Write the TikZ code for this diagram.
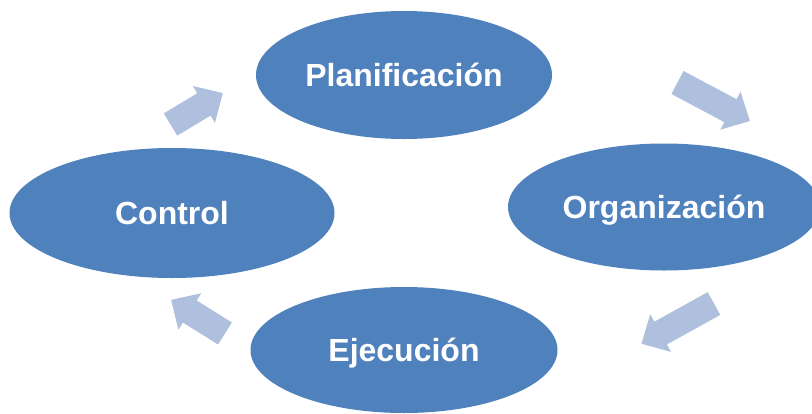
\documentclass[tikz,border=0pt]{standalone}
\usepackage{fontspec}
\setmainfont{Liberation Sans}
\usetikzlibrary{shapes.geometric}
\definecolor{phaseblue}{HTML}{4F81BD}
\definecolor{arrowblue}{HTML}{AEC0DD}

\begin{document}
\begin{tikzpicture}[x=1pt, y=-1pt,
  phase/.style={ellipse, fill=phaseblue, inner sep=0pt, text=white,
    text height=22pt, text depth=0pt,
    font=\fontsize{32}{38}\selectfont\bfseries}]
\useasboundingbox (0,0) rectangle (812,413);
\node [phase, minimum width=296pt, minimum height=128pt] (plan) at (404,75) {Planificación};
\node [phase, minimum width=312pt, minimum height=127pt] (orga) at (664,207) {Organización};
\node [phase, minimum width=307pt, minimum height=126pt] (ejec) at (404,350) {Ejecución};
\node [phase, minimum width=325pt, minimum height=130pt] (ctrl) at (172,213) {Control};
\foreach \x/\y/\angle/\len in {170.5/124.5/31/61, 677.5/82.5/-28/82, 714/303.5/209/83, 225/333.5/148/63.5}
	\fill [arrowblue, shift={(\x,\y)}, rotate=\angle] (0,-13) -- (\len-22,-13) -- (\len-22,-21.5) -- (\len,0) -- (\len-22,21.5) -- (\len-22,13) -- (0,13) -- cycle;
\end{tikzpicture}
\end{document}
